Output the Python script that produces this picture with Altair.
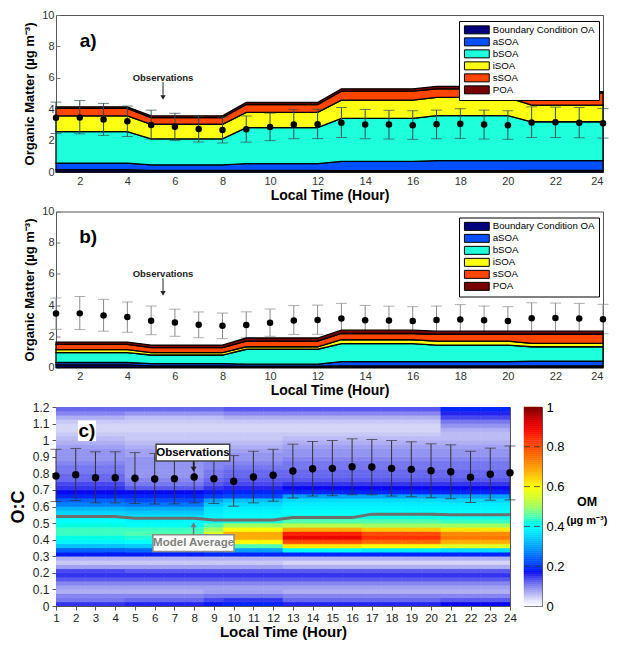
import altair as alt
import pandas as pd

FONT = "Liberation Sans"

hours = list(range(1, 25))
components = ["Boundary Condition OA", "aSOA", "bSOA", "iSOA", "sSOA", "POA"]
component_colors = ["#00007e", "#0050ff", "#1effdc", "#ffff14", "#ff4600", "#780000"]

# ---- panel a: model components (ug m-3) per hour
a_bc   = [0.15,0.15,0.15,0.15,0.10,0.10,0.10,0.10,0.10,0.10,0.10,0.10,0.08,0.08,0.08,0.08,0.08,0.08,0.08,0.08,0.10,0.10,0.10,0.10]
a_asoa = [0.42,0.42,0.42,0.42,0.36,0.36,0.36,0.36,0.43,0.43,0.43,0.43,0.60,0.60,0.60,0.60,0.64,0.64,0.64,0.64,0.62,0.62,0.62,0.62]
a_bsoa = [2.00,2.00,2.00,2.00,1.65,1.65,1.65,1.65,2.30,2.30,2.30,2.30,2.74,2.74,2.74,2.74,2.87,2.87,2.87,2.87,2.48,2.48,2.48,2.48]
a_isoa = [1.00,1.00,1.00,1.00,0.93,0.93,0.93,0.93,0.97,0.97,0.97,0.97,1.16,1.16,1.16,1.16,1.16,1.16,1.16,1.16,1.06,1.06,1.06,1.06]
a_ssoa = [0.48,0.48,0.48,0.48,0.42,0.42,0.42,0.42,0.50,0.50,0.50,0.50,0.57,0.57,0.57,0.57,0.55,0.55,0.55,0.55,0.76,0.76,0.76,0.76]
a_poa  = [0.10,0.10,0.10,0.10,0.12,0.12,0.12,0.12,0.13,0.13,0.13,0.13,0.15,0.15,0.15,0.15,0.15,0.15,0.15,0.15,0.10,0.10,0.10,0.10]

# ---- panel b: model components
b_bc   = [0.17,0.17,0.17,0.17,0.10,0.10,0.10,0.10,0.08,0.08,0.08,0.08,0.10,0.10,0.10,0.10,0.10,0.10,0.10,0.10,0.10,0.10,0.10,0.10]
b_asoa = [0.15,0.15,0.15,0.15,0.15,0.15,0.15,0.15,0.13,0.13,0.13,0.13,0.28,0.28,0.28,0.28,0.28,0.28,0.28,0.28,0.30,0.30,0.30,0.30]
b_bsoa = [0.63,0.63,0.63,0.63,0.55,0.55,0.55,0.55,0.96,0.96,0.96,0.96,1.15,1.15,1.15,1.15,1.06,1.06,1.06,1.06,0.93,0.93,0.93,0.93]
b_isoa = [0.19,0.19,0.19,0.19,0.15,0.15,0.15,0.15,0.16,0.16,0.16,0.16,0.25,0.25,0.25,0.25,0.25,0.25,0.25,0.25,0.22,0.22,0.22,0.22]
b_ssoa = [0.34,0.34,0.34,0.34,0.32,0.32,0.32,0.32,0.36,0.36,0.36,0.36,0.40,0.40,0.40,0.40,0.44,0.44,0.44,0.44,0.58,0.58,0.58,0.58]
b_poa  = [0.15,0.15,0.15,0.15,0.17,0.17,0.17,0.17,0.20,0.20,0.20,0.20,0.21,0.21,0.21,0.21,0.20,0.20,0.20,0.20,0.20,0.20,0.20,0.20]

# ---- observed organic matter (mean and error bar ends)
om_obs  = [3.46,3.47,3.34,3.23,3.00,2.88,2.74,2.67,2.72,2.87,3.02,3.04,3.14,3.03,3.02,2.98,3.04,3.08,3.03,2.98,3.16,3.17,3.14,3.10]
om_high = [4.45,4.55,4.37,4.20,3.94,3.74,3.56,3.49,3.57,3.75,3.97,4.00,4.11,3.98,3.93,3.90,3.94,4.03,3.94,3.90,4.15,4.13,4.11,4.05]
om_low  = [2.45,2.43,2.33,2.26,2.10,2.00,1.91,1.85,1.90,2.00,2.12,2.13,2.20,2.12,2.10,2.08,2.12,2.14,2.10,2.08,2.20,2.20,2.18,2.16]

# ---- panel c: observed O:C and model average O:C
oc_obs  = [0.784,0.792,0.774,0.774,0.770,0.766,0.768,0.778,0.768,0.752,0.778,0.788,0.814,0.828,0.830,0.840,0.838,0.830,0.824,0.816,0.810,0.776,0.794,0.804]
oc_high = [0.945,0.950,0.930,0.930,0.925,0.920,0.920,0.930,0.920,0.907,0.933,0.945,0.976,0.992,0.998,1.008,1.004,0.998,0.990,0.978,0.972,0.933,0.952,0.965]
oc_low  = [0.630,0.636,0.622,0.622,0.618,0.615,0.616,0.622,0.618,0.602,0.622,0.632,0.651,0.663,0.665,0.671,0.671,0.663,0.659,0.653,0.647,0.624,0.638,0.640]
oc_model = [0.539,0.539,0.539,0.539,0.529,0.529,0.529,0.529,0.519,0.519,0.519,0.519,0.533,0.533,0.533,0.533,0.554,0.554,0.554,0.554,0.550,0.550,0.550,0.550]

# ---- panel c: OM distribution over O:C (bins of 0.025 from 0 to 1.2), per hour group
oc_bin_width = 0.025
om_prof_1 = [0.15,0.11,0.10,0.07,0.08,0.10,0.13,0.15,0.14,0.08,0.05,0.07,0.18,0.24,0.33,0.39,0.42,0.44,0.44,0.42,0.40,0.38,0.35,0.32,
             0.27,0.24,0.19,0.17,0.15,0.14,0.12,0.12,0.11,0.11,0.10,0.09,0.09,0.09,0.08,0.07,0.06,0.05,0.04,0.04,0.05,0.07,0.10,0.12]
om_prof_2 = [0.16,0.12,0.10,0.07,0.08,0.10,0.13,0.15,0.13,0.08,0.05,0.07,0.18,0.25,0.34,0.40,0.43,0.45,0.44,0.41,0.39,0.37,0.34,0.31,
             0.26,0.22,0.19,0.17,0.13,0.11,0.10,0.09,0.09,0.09,0.09,0.09,0.08,0.08,0.07,0.06,0.05,0.05,0.04,0.04,0.05,0.06,0.09,0.12]
om_prof_3 = [0.18,0.14,0.11,0.08,0.08,0.10,0.13,0.15,0.13,0.08,0.05,0.07,0.19,0.28,0.40,0.48,0.54,0.55,0.50,0.45,0.41,0.39,0.38,0.37,
             0.34,0.30,0.21,0.18,0.15,0.13,0.12,0.11,0.11,0.10,0.10,0.09,0.09,0.08,0.07,0.06,0.05,0.05,0.04,0.04,0.05,0.06,0.09,0.12]
om_prof_4 = [0.19,0.15,0.11,0.08,0.08,0.10,0.13,0.15,0.13,0.08,0.05,0.07,0.19,0.30,0.45,0.60,0.68,0.68,0.60,0.50,0.43,0.40,0.39,0.38,
             0.36,0.33,0.22,0.19,0.16,0.14,0.13,0.12,0.12,0.11,0.10,0.09,0.09,0.08,0.07,0.06,0.05,0.05,0.04,0.04,0.05,0.07,0.10,0.13]
om_prof_5 = [0.16,0.12,0.10,0.07,0.08,0.10,0.13,0.15,0.13,0.07,0.04,0.07,0.19,0.40,0.62,0.80,0.90,0.86,0.68,0.52,0.45,0.42,0.40,0.39,
             0.38,0.36,0.30,0.19,0.17,0.15,0.13,0.12,0.12,0.11,0.11,0.10,0.09,0.09,0.08,0.07,0.06,0.05,0.04,0.04,0.05,0.07,0.10,0.13]
om_prof_6 = [0.16,0.12,0.10,0.07,0.08,0.10,0.13,0.15,0.13,0.07,0.04,0.07,0.19,0.38,0.60,0.76,0.84,0.80,0.65,0.50,0.45,0.42,0.40,0.39,
             0.38,0.36,0.30,0.19,0.17,0.15,0.13,0.12,0.12,0.11,0.11,0.10,0.09,0.09,0.08,0.07,0.06,0.05,0.04,0.04,0.05,0.07,0.10,0.13]
om_prof_7 = [0.17,0.13,0.10,0.07,0.08,0.10,0.13,0.15,0.13,0.07,0.04,0.07,0.19,0.36,0.56,0.68,0.74,0.72,0.62,0.50,0.44,0.41,0.40,0.39,
             0.38,0.35,0.30,0.19,0.17,0.15,0.13,0.12,0.12,0.11,0.11,0.10,0.09,0.09,0.08,0.07,0.06,0.06,0.07,0.09,0.11,0.14,0.16,0.19]
om_profiles = [om_prof_1, om_prof_2, om_prof_3, om_prof_4, om_prof_5, om_prof_6, om_prof_7]
hour_profile = [0,0,0,0,1,1,1,1,2,3,3,3,4,4,4,4,5,5,5,5,6,6,6,6]

cmap_stops = [0, 0.03, 0.06, 0.09, 0.12, 0.15, 0.17, 0.2, 0.25, 0.3, 0.35, 0.4, 0.45, 0.5, 0.55, 0.6, 0.65, 0.7, 0.75, 0.8, 0.87, 0.93, 1.0]
cmap_colors = ["#ffffff", "#e2e2fa", "#bcbcf5", "#9494f1", "#6868ef", "#3434ee", "#0808f0", "#0030ff", "#0068ff",
               "#00a0ff", "#00d4ff", "#00ffff", "#50ffb0", "#a0ff60", "#d8ff28", "#ffff00", "#ffcc00", "#ff9a00",
               "#ff7000", "#ff4a00", "#ff1000", "#d80000", "#800000"]
cbar_ticks = [0, 0.2, 0.4, 0.6, 0.8, 1]

# ------------------------------------------------------------------
W_AB, H_A, H_B = 547, 157, 156
W_C, H_C = 454, 199
CB_W = 18


def stack_frame(series):
    rows = []
    for i, (name, vals) in enumerate(zip(components, series)):
        for h, v in zip(hours, vals):
            rows.append({"hour": h, "component": name, "value": v, "ord": i})
    return pd.DataFrame(rows)


obs_df = pd.DataFrame({"hour": hours, "mean": om_obs, "lo": om_low, "hi": om_high})
oc_df = pd.DataFrame({"hour": hours, "mean": oc_obs, "lo": oc_low, "hi": oc_high, "model": oc_model})

x_ab = alt.Scale(domain=[1, 24], nice=False, zero=False)
y_ab = alt.Scale(domain=[0, 10], nice=False)

X_AXIS_AB = alt.Axis(values=list(range(2, 25, 2)), title="Local Time (Hour)", offset=-4, tickSize=4,
                     domain=False, grid=False, labelPadding=3, titlePadding=2, labelFontSize=11,
                     labelOverlap=False, labelFlush=True, labelColor="#333333", tickColor="#777777",
                     titleFontSize=14, titleFontWeight="bold", titleColor="black", labelFont=FONT,
                     titleFont=FONT)
Y_AXIS_AB = alt.Axis(values=list(range(0, 11, 2)), title="Organic Matter (\u00b5g m\u207b\u00b3)", offset=-4,
                     tickSize=4, domain=False, grid=False, labelPadding=2, titlePadding=5, labelFontSize=11,
                     labelOverlap=False, labelFlush=False, labelColor="#333333", tickColor="#777777",
                     titleFontSize=13, titleFontWeight="bold", titleColor="black", labelFont=FONT,
                     titleFont=FONT)


def xa(field):
    return alt.X(field, scale=x_ab, axis=X_AXIS_AB)


def ya(field):
    return alt.Y(field, scale=y_ab, axis=Y_AXIS_AB)


def legend_ab():
    return alt.Legend(title=None, orient="none", legendX=403, legendY=6,
                      symbolType="M-3.1,-1H3.1V1H-3.1Z", symbolSize=64, symbolStrokeColor="black",
                      symbolStrokeWidth=1, symbolOffset=9, labelOffset=11, labelFontSize=9.7,
                      labelColor="black", labelFont=FONT, padding=4, strokeColor="black",
                      fillColor="white", rowPadding=-1, labelLimit=220, symbolOpacity=1)


def panel_ab(series, letter, bar_color, bars_on_top, height):
    area = alt.Chart(stack_frame(series)).mark_area(stroke="black", strokeWidth=1.3, opacity=1).encode(
        x=xa("hour:Q"),
        y=alt.Y("value:Q", stack="zero", scale=y_ab, axis=Y_AXIS_AB),
        color=alt.Color("component:N", scale=alt.Scale(domain=components, range=component_colors),
                        legend=legend_ab()),
        order=alt.Order("ord:Q"),
    )
    base = alt.Chart(obs_df)
    rule = base.mark_rule(color=bar_color, strokeWidth=1).encode(x=xa("hour:Q"), y=ya("lo:Q"), y2="hi:Q")
    cap_lo = base.mark_tick(color=bar_color, orient="horizontal", size=11, thickness=1).encode(
        x=xa("hour:Q"), y=ya("lo:Q"))
    cap_hi = base.mark_tick(color=bar_color, orient="horizontal", size=11, thickness=1).encode(
        x=xa("hour:Q"), y=ya("hi:Q"))
    dots = base.mark_circle(size=42, color="black", opacity=1).encode(x=xa("hour:Q"), y=ya("mean:Q"))

    note = pd.DataFrame({"hour": [5.5], "ty": [6.0], "a0": [5.72], "a1": [4.85], "head": [4.75],
                         "lx": [2.35], "ly": [8.35], "lab": [letter]})
    nb = alt.Chart(note)
    text = nb.mark_text(text="Observations", font=FONT, fontSize=9.5, fontWeight="bold", color="#222222").encode(
        x=xa("hour:Q"), y=ya("ty:Q"))
    arrow = nb.mark_rule(color="#222222", strokeWidth=1).encode(x=xa("hour:Q"), y=ya("a0:Q"), y2="a1:Q")
    head = nb.mark_point(shape="triangle-down", filled=True, size=28, color="#222222", opacity=1).encode(
        x=xa("hour:Q"), y=ya("head:Q"))
    lab = nb.mark_text(font=FONT, fontSize=19, fontWeight="bold", color="black").encode(
        x=xa("lx:Q"), y=ya("ly:Q"), text="lab:N")

    bars = [rule, cap_lo, cap_hi]
    if bars_on_top:
        layers = [area] + bars + [dots, text, arrow, head, lab]
    else:
        layers = bars + [area, dots, text, arrow, head, lab]
    return alt.layer(*layers).properties(width=W_AB, height=height)


panel_a = panel_ab([a_bc, a_asoa, a_bsoa, a_isoa, a_ssoa, a_poa], "a)", "#2d4d4d", True, H_A)
panel_b = panel_ab([b_bc, b_asoa, b_bsoa, b_isoa, b_ssoa, b_poa], "b)", "#8a8a8a", False, H_B)

# ---- panel c
cells = []
for h in hours:
    prof = om_profiles[hour_profile[h - 1]]
    for k, v in enumerate(prof):
        cells.append({"x0": h - 0.5, "x1": h + 0.5, "y0": k * oc_bin_width, "y1": (k + 1) * oc_bin_width, "om": v})
cell_df = pd.DataFrame(cells)

x_c = alt.Scale(domain=[1, 24], nice=False, zero=False)
y_c = alt.Scale(domain=[0, 1.2], nice=False)
cscale = alt.Scale(domain=cmap_stops, range=cmap_colors, clamp=True)

X_AXIS_C = alt.Axis(values=hours, title="Local Time (Hour)", tickSize=4, grid=False, domain=True,
                    domainColor="#555555", tickColor="#555555", labelPadding=2, titlePadding=1,
                    labelFontSize=11.5, labelOverlap=False, labelFlush=False, labelColor="#222222",
                    titleFontSize=15, titleFontWeight="bold", titleColor="black", labelFont=FONT,
                    titleFont=FONT)
Y_AXIS_C = alt.Axis(values=[0, 0.1, 0.2, 0.3, 0.4, 0.5, 0.6, 0.7, 0.8, 0.9, 1.0, 1.1, 1.2], format="~g",
                    title="O:C", tickSize=4, grid=False, domain=True, domainColor="#555555",
                    tickColor="#555555", labelPadding=3, titlePadding=5, labelFontSize=12, labelOverlap=False,
                    labelFlush=False, labelColor="#222222", titleFontSize=18, titleFontWeight="bold",
                    titleColor="black", labelFont=FONT, titleFont=FONT)


def xc(field):
    return alt.X(field, scale=x_c, axis=X_AXIS_C)


def yc(field):
    return alt.Y(field, scale=y_c, axis=Y_AXIS_C)


heat = alt.Chart(cell_df).mark_rect(clip=True, strokeWidth=0.6).encode(
    x=xc("x0:Q"), x2="x1:Q", y=yc("y0:Q"), y2="y1:Q",
    fill=alt.Fill("om:Q", scale=cscale, legend=None),
    stroke=alt.Stroke("om:Q", scale=cscale, legend=None),
)

cbase = alt.Chart(oc_df)
model_line = cbase.mark_line(color="#6e6e6e", strokeWidth=3).encode(x=xc("hour:Q"), y=yc("model:Q"))
c_rule = cbase.mark_rule(color="#333333", strokeWidth=1).encode(x=xc("hour:Q"), y=yc("lo:Q"), y2="hi:Q")
c_cap_lo = cbase.mark_tick(color="#333333", orient="horizontal", size=11, thickness=1).encode(
    x=xc("hour:Q"), y=yc("lo:Q"))
c_cap_hi = cbase.mark_tick(color="#333333", orient="horizontal", size=11, thickness=1).encode(
    x=xc("hour:Q"), y=yc("hi:Q"))
c_dots = cbase.mark_circle(size=55, color="black", opacity=1).encode(x=xc("hour:Q"), y=yc("mean:Q"))

obs_box = pd.DataFrame({"x0": [6.07], "x1": [9.8], "y0": [0.875], "y1": [0.975]})
avg_box = pd.DataFrame({"x0": [5.91], "x1": [10.02], "y0": [0.329], "y1": [0.43]})
lab_box = pd.DataFrame({"x0": [2.11], "x1": [3.03], "y0": [0.994], "y1": [1.119]})
box_obs = alt.Chart(obs_box).mark_rect(fill="white", stroke="#444444", strokeWidth=1.5).encode(
    x=xc("x0:Q"), x2="x1:Q", y=yc("y0:Q"), y2="y1:Q")
box_avg = alt.Chart(avg_box).mark_rect(fill="white", stroke="#8a8a8a", strokeWidth=1.5).encode(
    x=xc("x0:Q"), x2="x1:Q", y=yc("y0:Q"), y2="y1:Q")
box_lab = alt.Chart(lab_box).mark_rect(fill="white").encode(x=xc("x0:Q"), x2="x1:Q", y=yc("y0:Q"), y2="y1:Q")

labels_c = pd.DataFrame({"hx": [7.94, 7.97, 2.57], "hy": [0.925, 0.379, 1.055],
                         "t": ["Observations", "Model Average", "c)"],
                         "col": ["black", "#808080", "black"], "fs": [11.5, 11.5, 19]})
label_marks = alt.Chart(labels_c).mark_text(font=FONT, fontWeight="bold").encode(
    x=xc("hx:Q"), y=yc("hy:Q"), text="t:N", color=alt.Color("col:N", scale=None),
    size=alt.Size("fs:Q", scale=None))

arrows_c = pd.DataFrame({"hx": [7.97, 7.97], "a0": [0.875, 0.43], "a1": [0.835, 0.48], "hd": [0.825, 0.49],
                         "shape": ["triangle-down", "triangle-up"], "col": ["#222222", "#777777"]})
arrow_rules = alt.Chart(arrows_c).mark_rule(strokeWidth=1.5).encode(
    x=xc("hx:Q"), y=yc("a0:Q"), y2="a1:Q", color=alt.Color("col:N", scale=None))
arrow_heads = alt.Chart(arrows_c).mark_point(filled=True, size=34, opacity=1).encode(
    x=xc("hx:Q"), y=yc("hd:Q"), shape=alt.Shape("shape:N", scale=None), color=alt.Color("col:N", scale=None))

panel_c = alt.layer(heat, model_line, c_rule, c_cap_lo, c_cap_hi, c_dots, box_obs, box_avg, box_lab,
                    label_marks, arrow_rules, arrow_heads).properties(width=W_C, height=H_C)

# ---- colour bar for panel c
cbar_df = pd.DataFrame({"lo": [i / 100 for i in range(100)], "hi": [(i + 1) / 100 for i in range(100)]})
cbar_df["mid"] = (cbar_df["lo"] + cbar_df["hi"]) / 2
CB_AXIS = alt.Axis(orient="right", values=cbar_ticks, format="~g", title=None, tickSize=0,
                   domain=False, grid=False, labelPadding=4, labelFontSize=13, labelColor="black",
                   labelFont=FONT, labelOverlap=False, labelFlush=False)
cb_y = alt.Scale(domain=[0, 1], nice=False)
cbar = alt.Chart(cbar_df).mark_rect(strokeWidth=0.5).encode(
    x=alt.value(0), x2=alt.value(CB_W),
    y=alt.Y("lo:Q", scale=cb_y, axis=CB_AXIS),
    y2="hi:Q",
    fill=alt.Fill("mid:Q", scale=cscale, legend=None),
    stroke=alt.Stroke("mid:Q", scale=cscale, legend=None),
)
cbar_ticks_df = pd.DataFrame({"v": [0.2, 0.4, 0.6, 0.8]})
cbar_dash = alt.Chart(cbar_ticks_df).mark_rule(color="#333333", strokeDash=[6, 4], strokeWidth=1, opacity=0.8).encode(
    y=alt.Y("v:Q", scale=cb_y, axis=CB_AXIS), x=alt.value(0), x2=alt.value(CB_W))
om_title = alt.Chart(pd.DataFrame({"t": ["OM", "(\u00b5g m\u207b\u00b3)"], "py": [95, 114],
                                   "fs": [12.5, 11]})).mark_text(
    font=FONT, fontWeight="bold", color="black").encode(
    x=alt.value(63), y=alt.Y("py:Q", scale=None), text="t:N", size=alt.Size("fs:Q", scale=None))
cbar_panel = alt.layer(cbar, cbar_dash, om_title).properties(width=CB_W, height=H_C)

row_c = alt.hconcat(panel_c, cbar_panel, spacing=14, bounds="flush").resolve_scale(
    x="independent", y="independent")

chart = alt.vconcat(panel_a, panel_b, row_c, spacing=39.5, bounds="flush").resolve_scale(
    x="independent", y="independent", color="independent"
).properties(padding={"left": 0, "top": 0, "right": 0, "bottom": 0}).configure(
    font=FONT
).configure_view(
    stroke="#555555", strokeWidth=1
).configure_axis(labelOverlap=False)

chart.save("out.html", embed_options={"renderer": "svg", "actions": False})
